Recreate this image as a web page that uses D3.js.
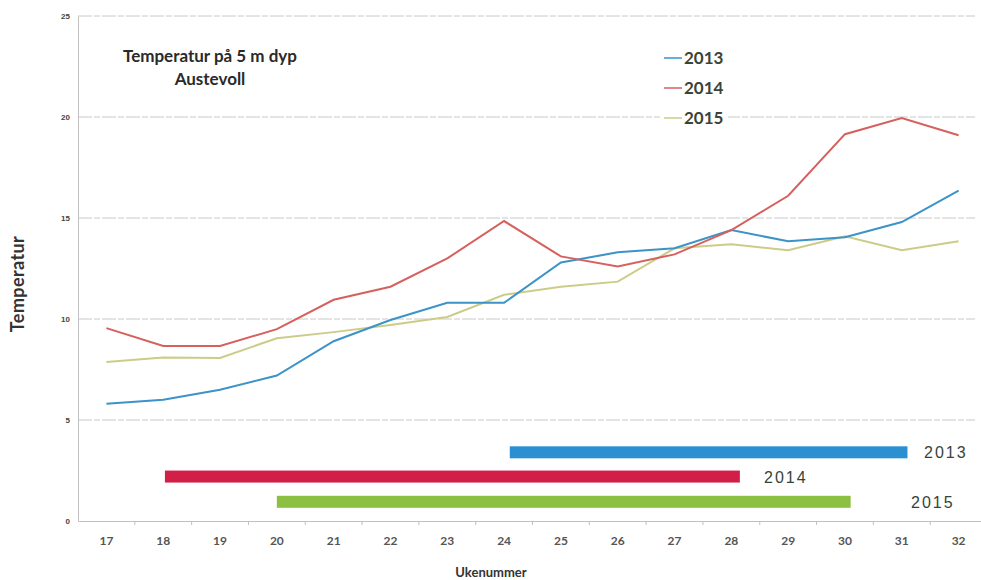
<!DOCTYPE html>
<html><head><meta charset="utf-8">
<script src="https://cdn.jsdelivr.net/npm/d3@7"></script>
<style>body{margin:0;background:#fff;}svg{display:block;}</style>
</head><body>
<svg id="c" width="981" height="580"></svg>
<script>
const weeks = [17,18,19,20,21,22,23,24,25,26,27,28,29,30,31,32];
const t2013 = [5.8,6.0,6.5,7.2,8.9,9.95,10.8,10.8,12.8,13.3,13.5,14.4,13.85,14.05,14.8,16.35];
const t2014 = [9.55,8.66,8.66,9.5,10.95,11.6,13.0,14.85,13.1,12.6,13.2,14.4,16.1,19.15,19.95,19.1];
const t2015 = [7.87,8.1,8.07,9.05,9.35,9.7,10.1,11.2,11.6,11.85,13.5,13.7,13.4,14.1,13.4,13.85];
const yTicks = [0,5,10,15,20,25];
const seriesNames = ["2013","2014","2015"];
const lineColors = ["#3b93c7","#d6605d","#cccc88"];
// periods (bars): start week, end week, level
const barStart = [24.1,18.03,20.0];
const barEnd = [31.1,28.15,30.1];
const barLevel = [3.4,2.2,0.95];
const barColors = ["#2b8fd1","#d11f47","#8cc043"];

(function(){
const svg = d3.select("#c");
const mLeft = 78, mRight = 987, mTop = 16, mBottom = 521;
const x = d3.scaleBand().domain(weeks).range([mLeft,mRight]);
const xc = d3.scaleLinear().domain([17,32]).range([x(17)+x.bandwidth()/2, x(32)+x.bandwidth()/2]);
const y = d3.scaleLinear().domain([0,25]).range([mBottom,mTop]);

// gridlines
svg.append("g").selectAll("line").data(yTicks.filter(d=>d>0)).join("line")
  .attr("x1",mLeft).attr("x2",975).attr("y1",d=>y(d)).attr("y2",d=>y(d))
  .attr("stroke","#c8c8c8").attr("stroke-width",1).attr("stroke-dasharray","14,2,6,2");

// y axis
const ya = svg.append("g").attr("transform",`translate(${mLeft},0)`)
  .call(d3.axisLeft(y).tickValues(yTicks).tickSize(0).tickPadding(8));
ya.select(".domain").attr("stroke","#c0c0c0");
ya.selectAll("text").attr("font-family","Liberation Sans, Arial").attr("font-size",8).attr("font-weight","bold").attr("fill","#444");

// x axis
const xa = svg.append("g").attr("transform",`translate(0,${mBottom})`)
  .call(d3.axisBottom(x).tickSize(0).tickPadding(15));
xa.select(".domain").attr("stroke","#c0c0c0");
xa.selectAll("text").attr("font-family","Lato, Open Sans, sans-serif").attr("font-size",12)
  .attr("font-weight","bold").attr("fill","#555");
svg.append("g").selectAll("line").data(weeks.slice(1)).join("line")
  .attr("x1",d=>x(d)).attr("x2",d=>x(d)).attr("y1",mBottom).attr("y2",mBottom+4)
  .attr("stroke","#c0c0c0");

// lines
const data = [t2013,t2014,t2015];
const line = d3.line().x((d,i)=>xc(weeks[i])).y(d=>y(d));
[2,0,1].forEach(k=>{
  svg.append("path").datum(data[k]).attr("d",line).attr("fill","none")
    .attr("stroke",lineColors[k]).attr("stroke-width",2);
});

// bars
const barH = 12;
seriesNames.forEach((n,k)=>{
  svg.append("rect").attr("x",xc(barStart[k])).attr("y",y(barLevel[k])-barH/2)
    .attr("width",xc(barEnd[k])-xc(barStart[k])).attr("height",barH)
    .attr("fill",barColors[k]);
});
const barLabelX = [924,764,911];
seriesNames.forEach((n,k)=>{
  svg.append("text").attr("x",barLabelX[k]).attr("y",y(barLevel[k])+6)
    .attr("font-family","Liberation Sans, Arial").attr("font-size",16).attr("fill","#35443a")
    .attr("letter-spacing","2").text(n);
});

// legend
seriesNames.forEach((n,k)=>{
  const ly = 58 + k*30;
  svg.append("rect").attr("x",660).attr("y",ly-10).attr("width",68).attr("height",20).attr("fill","#fff");
  svg.append("line").attr("x1",664).attr("x2",682).attr("y1",ly).attr("y2",ly)
    .attr("stroke",lineColors[k]).attr("stroke-width",1.5);
  svg.append("text").attr("x",684).attr("y",ly+6).attr("font-family","Lato, Open Sans, sans-serif")
    .attr("font-size",17).attr("font-weight","bold").attr("fill","#3a4438").text(n);
});

// title
svg.append("text").attr("x",210).attr("y",62).attr("text-anchor","middle")
  .attr("font-family","Lato, Open Sans, sans-serif").attr("font-size",17).attr("font-weight","bold")
  .attr("fill","#2a2a2a").text("Temperatur på 5 m dyp");
svg.append("text").attr("x",210).attr("y",85).attr("text-anchor","middle")
  .attr("font-family","Lato, Open Sans, sans-serif").attr("font-size",17).attr("font-weight","bold")
  .attr("fill","#2a2a2a").text("Austevoll");

// axis titles
svg.append("text").attr("transform","translate(24,284) rotate(-90)").attr("text-anchor","middle")
  .attr("font-family","Lato, Open Sans, sans-serif").attr("font-size",18).attr("font-weight","bold")
  .attr("letter-spacing","0.4").attr("fill","#333").text("Temperatur");
svg.append("text").attr("x",491).attr("y",577).attr("text-anchor","middle")
  .attr("font-family","Lato, Open Sans, sans-serif").attr("font-size",13).attr("font-weight","bold")
  .attr("fill","#333").text("Ukenummer");
})();
</script>
</body></html>
